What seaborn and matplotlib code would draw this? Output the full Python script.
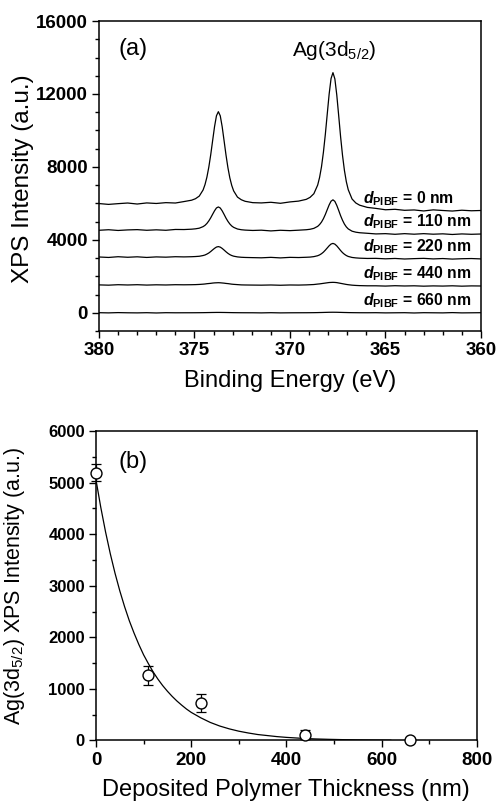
import numpy as np
import pandas as pd
import matplotlib
matplotlib.use("Agg")
import matplotlib.pyplot as plt
import seaborn as sns
from matplotlib.ticker import MultipleLocator

# ---------------- data: panel (a) XPS spectra ----------------
energy_ev = [380.0, 379.5, 379.0, 378.5, 378.0, 377.5, 377.0, 376.5, 376.0,
             375.55, 375.15, 374.95, 374.75, 374.55, 374.45, 374.35, 374.25, 374.15, 374.05,
             373.95, 373.85, 373.75, 373.65, 373.55, 373.45, 373.35, 373.25, 373.15, 373.05,
             372.95, 372.75, 372.55, 372.35, 371.95,
             371.5, 371.0, 370.5, 370.0,
             369.55, 369.15, 368.95, 368.75, 368.55, 368.45, 368.35, 368.25, 368.15, 368.05,
             367.95, 367.85, 367.75, 367.65, 367.55, 367.45, 367.35, 367.25, 367.15, 367.05,
             366.95, 366.75, 366.55, 366.35, 365.95,
             365.5, 365.0, 364.5, 364.0, 363.5, 363.0, 362.5, 362.0, 361.5, 361.0, 360.5, 360.0]

spec_0nm = [5990, 5945, 5985, 6020, 5965, 6025, 5995, 6040, 6020,
            6100, 6175, 6255, 6400, 6735, 7030, 7440, 7990, 8670, 9445, 10210, 10805, 11030,
            10800, 10200, 9430, 8650, 7960, 7400, 6985, 6685, 6345, 6200, 6115, 6040,
            6025, 6060, 6005, 6080,
            6125, 6220, 6330, 6530, 7005, 7425, 8010, 8800, 9775, 10890, 11990, 12845, 13170,
            12825, 11945, 10815, 9655, 8640, 7810, 7190, 6750, 6240, 6020, 5900, 5780,
            5725, 5650, 5675, 5620, 5640, 5585, 5645, 5610, 5580, 5625, 5595, 5610]

spec_110nm = [4525, 4555, 4515, 4545, 4560, 4525, 4550, 4525, 4570,
              4565, 4585, 4605, 4640, 4725, 4795, 4900, 5040, 5210, 5405, 5595, 5750, 5805,
              5745, 5590, 5395, 5190, 5015, 4870, 4760, 4685, 4595, 4555, 4535, 4515,
              4530, 4490, 4525, 4505,
              4530, 4555, 4580, 4630, 4740, 4840, 4975, 5160, 5390, 5655, 5915, 6120, 6195,
              6110, 5890, 5615, 5325, 5075, 4865, 4710, 4600, 4475, 4420, 4390, 4360,
              4325, 4340, 4305, 4340, 4310, 4340, 4310, 4330, 4295, 4325, 4305, 4320]

spec_220nm = [3060, 3035, 3075, 3045, 3070, 3035, 3065, 3050, 3075,
              3065, 3075, 3085, 3100, 3140, 3170, 3220, 3280, 3360, 3450, 3535, 3605, 3630,
              3600, 3530, 3440, 3345, 3260, 3190, 3140, 3105, 3065, 3045, 3035, 3025,
              3015, 3040, 3010, 3040,
              3030, 3045, 3055, 3080, 3130, 3175, 3240, 3325, 3435, 3555, 3675, 3770, 3805,
              3765, 3670, 3545, 3415, 3300, 3210, 3140, 3090, 3035, 3010, 2995, 2980,
              2985, 2960, 2980, 2950, 2970, 2985, 2955, 2975, 2945, 2965, 2975, 2955]

spec_440nm = [1530, 1515, 1540, 1525, 1540, 1520, 1535, 1525, 1540,
              1535, 1540, 1545, 1555, 1570, 1580, 1595, 1605, 1615, 1630, 1640, 1645, 1650,
              1645, 1635, 1625, 1610, 1600, 1585, 1570, 1560, 1545, 1530, 1525, 1520,
              1515, 1525, 1510, 1525,
              1520, 1530, 1540, 1550, 1575, 1585, 1600, 1615, 1630, 1645, 1660, 1665, 1670,
              1665, 1655, 1635, 1615, 1595, 1575, 1555, 1540, 1515, 1500, 1490, 1480,
              1480, 1465, 1485, 1470, 1480, 1460, 1475, 1465, 1480, 1460, 1475, 1470]

spec_660nm = [5, -5, 10, 0, -5, 5, -10, 5, 0,
              1, 2, 3, 5, 7, 9, 11, 13, 15, 17, 18, 20, 20,
              20, 18, 17, 15, 13, 11, 9, 7, 5, 3, 2, 1,
              -5, 5, -5, 0,
              2, 3, 5, 7, 11, 14, 16, 19, 22, 25, 28, 29, 30,
              29, 28, 25, 22, 19, 16, 14, 11, 7, 5, 3, 2,
              5, -5, 0, 5, -10, 5, 0, -5, 10, -5, 0, 5]

spectrum_labels = ["0", "110", "220", "440", "660"]
spectra = [spec_0nm, spec_110nm, spec_220nm, spec_440nm, spec_660nm]

# ---------------- data: panel (b) ----------------
thickness_nm = [0, 110, 220, 440, 660]
ag_intensity = [5190, 1265, 725, 115, 0]
ag_error = [165, 185, 180, 80, 30]

fit_x = [0, 10, 20, 30, 40, 50, 60, 70, 80, 90, 100, 110, 120, 130, 140, 150, 160, 170,
         180, 190, 200, 220, 240, 260, 280, 300, 320, 340, 360, 380, 400, 430, 460, 490,
         520, 550, 580, 620]
fit_y = [5050, 4520, 4045, 3620, 3240, 2900, 2595, 2320, 2080, 1860, 1660, 1490, 1330,
         1190, 1065, 955, 855, 765, 685, 610, 545, 440, 350, 280, 225, 180, 145, 115, 95,
         75, 60, 43, 30, 22, 16, 11, 8, 5]

# ---------------- styling ----------------
sns.set_style("ticks")
plt.rcParams.update({
    "font.family": ["Liberation Sans", "DejaVu Sans"],
    "mathtext.fontset": "custom",
    "mathtext.rm": "Liberation Sans",
    "mathtext.it": "Liberation Sans:italic:bold",
    "mathtext.bf": "Liberation Sans:bold",
    "axes.linewidth": 1.1,
    "axes.edgecolor": "black",
    "text.color": "black",
    "axes.labelcolor": "black",
    "xtick.color": "black",
    "ytick.color": "black",
})

fig = plt.figure(figsize=(4.98, 8.06), dpi=100)
ax1 = fig.add_axes([0.1988, 0.5893, 0.767, 0.3846])
ax2 = fig.add_axes([0.1928, 0.0813, 0.7645, 0.384])

# ---- panel (a)
rows = []
for lab, vals in zip(spectrum_labels, spectra):
    rows.append(pd.DataFrame({"energy": energy_ev, "intensity": vals, "thickness": lab}))
spec_df = pd.concat(rows, ignore_index=True)

sns.lineplot(data=spec_df, x="energy", y="intensity", units="thickness", estimator=None,
             color="black", linewidth=0.9, sort=False, ax=ax1, legend=False)

ax1.set_xlim(380, 360)
ax1.set_ylim(-1000, 16000)
ax1.xaxis.set_major_locator(MultipleLocator(5))
ax1.xaxis.set_minor_locator(MultipleLocator(1))
ax1.yaxis.set_major_locator(MultipleLocator(4000))
ax1.yaxis.set_minor_locator(MultipleLocator(1000))
ax1.set_xlabel("Binding Energy (eV)", fontsize=17)
ax1.set_ylabel("XPS Intensity (a.u.)", fontsize=17.5)
ax1.xaxis.set_label_coords(0.5, -0.125)
ax1.yaxis.set_label_coords(-0.17, 0.49)

label_y = [6000, 4770, 3345, 1885, 420]
for lab, yy in zip(spectrum_labels, label_y):
    ax1.text(366.2, yy, r"$\mathit{d}_{\mathregular{PIBF}}$ = " + lab + " nm",
             fontsize=11.3, fontweight="bold", ha="left", va="baseline")
ax1.text(379.0, 14150, "(a)", fontsize=17, ha="left", va="baseline")
ax1.text(369.9, 14100, r"Ag(3d$_{\mathregular{5/2}}$)", fontsize=15, ha="left", va="baseline")

# ---- panel (b)
sns.lineplot(x=fit_x, y=fit_y, color="black", linewidth=0.9, ax=ax2)
ax2.errorbar(thickness_nm, ag_intensity, yerr=ag_error, fmt="none", ecolor="black",
             elinewidth=0.9, capsize=3.5, capthick=0.9, clip_on=False, zorder=2)
sns.scatterplot(x=thickness_nm, y=ag_intensity, marker="o", s=62, facecolor="white",
                edgecolor="black", linewidth=1.0, ax=ax2, zorder=3, clip_on=False)

ax2.set_xlim(0, 800)
ax2.set_ylim(0, 6000)
ax2.xaxis.set_major_locator(MultipleLocator(200))
ax2.xaxis.set_minor_locator(MultipleLocator(100))
ax2.yaxis.set_major_locator(MultipleLocator(1000))
ax2.yaxis.set_minor_locator(MultipleLocator(500))
ax2.set_xlabel("Deposited Polymer Thickness (nm)", fontsize=17)
ax2.set_ylabel(r"Ag(3d$_{\mathregular{5/2}}$) XPS Intensity (a.u.)", fontsize=15.5)
ax2.xaxis.set_label_coords(0.5, -0.125)
ax2.yaxis.set_label_coords(-0.18, 0.5)
ax2.text(48, 5280, "(b)", fontsize=17, ha="left", va="baseline")

for ax, ysize in ((ax1, 13.5), (ax2, 12)):
    ax.tick_params(axis="both", which="major", direction="out", length=5, width=1.0,
                   top=False, right=False, pad=3)
    ax.tick_params(axis="both", which="minor", direction="out", length=3, width=1.0,
                   top=False, right=False)
    ax.tick_params(axis="x", labelsize=13.5)
    ax.tick_params(axis="y", labelsize=ysize)
    for sp in ax.spines.values():
        sp.set_visible(True)
        sp.set_linewidth(1.1)
    for t in ax.get_xticklabels() + ax.get_yticklabels():
        t.set_fontweight("bold")

fig.savefig("out.png", dpi=100)
